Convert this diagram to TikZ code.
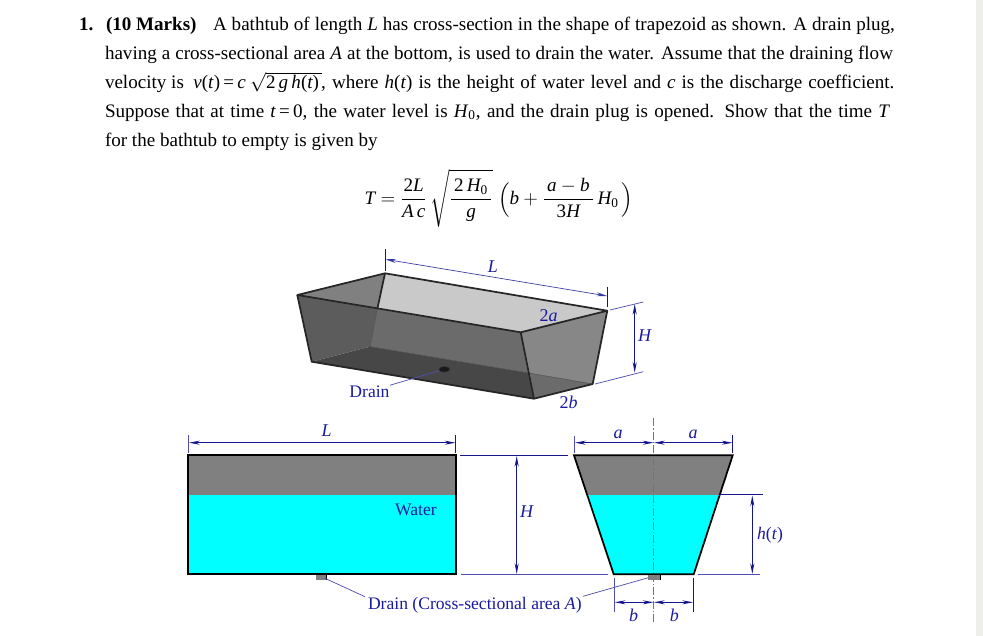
\documentclass[tikz,border=0pt]{standalone}
\usepackage{fontspec}
\usepackage{amsmath}
\setmainfont{Liberation Serif}
\usetikzlibrary{arrows.meta,shapes.geometric}
\definecolor{dimblue}{HTML}{14148C}
\definecolor{textblue}{HTML}{1A1AA0}
\definecolor{leadblue}{HTML}{5050B0}
\definecolor{strip}{HTML}{EEEEEA}
\definecolor{aqua}{RGB}{0,255,255}
\definecolor{cline}{HTML}{C85050}
\definecolor{clinew}{HTML}{4A8C96}
\newcommand{\mi}[1]{\mathord{\hbox{\itshape #1}}}
\newcommand{\rmn}[1]{\mathord{\hbox{\rmfamily #1}}}
\newcommand{\Hz}{\mi{H}_{\hbox{\fontsize{10}{10}\selectfont 0}}}
\tikzset{
  x=0.75pt,y=-0.75pt,
  txt/.style={anchor=base west,inner sep=0pt,outer sep=0pt,font=\fontsize{14.3}{17}\selectfont},
  lab/.style={inner sep=0pt,outer sep=0pt,text=textblue,font=\fontsize{13.2}{15}\selectfont},
  labit/.style={lab,font=\fontsize{13.5}{15}\selectfont\itshape},
  dimline/.style={draw=dimblue,line width=0.8pt,{Stealth[length=8pt,width=3pt]}-{Stealth[length=8pt,width=3pt]}},
  ext/.style={draw=dimblue,line width=0.65pt},
  lead/.style={draw=leadblue,line width=0.55pt},
  tubedge/.style={draw=black!85,line width=1.3pt,line join=round},
  solid edge/.style={draw=black,line width=1.3pt,line join=miter},
  centerdash/.style={line width=0.5pt,dash pattern=on 6pt off 1.5pt on 1pt off 1.5pt},
}
\begin{document}
\begin{tikzpicture}
\useasboundingbox (0,0) rectangle (983,636);
\fill[white] (0,0) rectangle (983,636);
\fill[strip] (976,0) rectangle (983,636);

% Text
\node[txt] (n1) at (79,30) {\textbf{1.}};
\node[txt] (m1) at (106,30) {\textbf{(10 Marks)}};
\node[txt] (l1) at (213,30) {\makebox[511.5pt][s]{A bathtub of length \textit{L} has cross-section in the shape of trapezoid as shown. A drain plug,}};
\node[txt] (l2) at (105,59) {\makebox[591pt][s]{having a cross-sectional area \textit{A} at the bottom, is used to drain the water. Assume that the draining flow}};
\node[txt] (l3a) at (105,88) {velocity is\ \ \textit{v}(\textit{t})\,=\,\textit{c}};
\node[txt] (l3b) at (250,88) {\smash{$\sqrt{\rmn{2}\,\mi{g}\,\mi{h}\rmn{(}\mi{t}\rmn{)}\,}$}};
\node[txt] (l3c) at (321,88) {\makebox[430pt][s]{, where \textit{h}(\textit{t}) is the height of water level and \textit{c} is the discharge coefficient.}};
\node[txt] (l4) at (105,117) {\makebox[588.75pt][s]{Suppose that at time \textit{t}\,=\,0, the water level is \textit{H}\textsubscript{0}, and the drain plug is opened. Show that the time \textit{T}}};
\node[txt] (l5) at (105,146) {for the bathtub to empty is given by};

% Formula
\node[inner sep=0pt,font=\fontsize{14.3}{17}\selectfont] (formula) at (499,198) {$\displaystyle \mi{T}=\frac{\rmn{2}\mi{L}}{\mi{A}\,\mi{c}}\,\sqrt{\frac{\,\rmn{2}\,\Hz\,}{\mi{g}}}\;\Bigl(\mi{b}+\frac{\,\mi{a}-\mi{b}\,}{\rmn{3}\mi{H}}\,\Hz\,\Bigr)$};

% 3D tub
\coordinate (A) at (385,273.3);
\coordinate (B) at (607.3,310.7);
\coordinate (C) at (520.7,332.3);
\coordinate (D) at (297.3,295);
\coordinate (E) at (311.7,361.7);
\coordinate (F) at (534,398.7);
\coordinate (G) at (592.7,384);
\coordinate (H) at (370,346.7);
\coordinate (X) at (377.3,309);
\coordinate (Y) at (530,373.3);
\fill[black!21] (A)--(B)--(C)--(X)--cycle;
\fill[black!50] (D)--(A)--(X)--cycle;
\fill[black!64] (D)--(X)--(H)--(E)--cycle;
\fill[black!58] (X)--(C)--(Y)--(H)--cycle;
\fill[black!72] (E)--(H)--(Y)--(F)--cycle;
\fill[black!47] (C)--(B)--(G)--(Y)--cycle;
\fill[black!58] (Y)--(G)--(F)--cycle;
\draw[black!70,line width=0.4pt] (X)--(H)--(Y)--(G);
\draw[tubedge] (A)--(X);
\draw[tubedge] (A)--(B)--(C)--(D)--cycle;
\draw[tubedge] (D)--(E)--(F)--(G)--(B);
\draw[tubedge] (C)--(F);
\node[draw=black!80,fill=black!90,ellipse,minimum width=8.2pt,minimum height=4.2pt,inner sep=0pt] (hole) at (444.3,369.3) {};

\node[lab] (drainlab) at (369.5,391.5) {Drain};
\coordinate (dl) at (390,385.2);
\draw[lead] (hole)--(dl);
\node[labit] (Lt) at (493,266.5) {L};
\node[lab,font=\fontsize{13.5}{15}\selectfont] (ta) at (548.7,315.5) {2\textit{a}};
\node[lab,font=\fontsize{13.5}{15}\selectfont] (tb) at (568.7,402) {2\textit{b}};
\node[labit] (tH) at (644.5,336) {H};
\coordinate (e1a) at (385.3,249.3); \coordinate (e1b) at (385.3,270.7);
\coordinate (e2a) at (607.3,286.7); \coordinate (e2b) at (607.3,307.3);
\draw[ext] (e1a)--(e1b);
\draw[ext] (e2a)--(e2b);
\coordinate (dL1) at (385.3,259.3); \coordinate (dL2) at (607.3,296);
\draw[dimline,line width=0.5pt,draw=leadblue!60!dimblue] (dL1)--(dL2);
\coordinate (e3a) at (610,310); \coordinate (e3b) at (643.3,302);
\coordinate (e4a) at (595,384); \coordinate (e4b) at (643.3,371.7);
\draw[lead] (e3a)--(e3b);
\draw[lead] (e4a)--(e4b);
\coordinate (dH1) at (634.7,304); \coordinate (dH2) at (634.7,372.7);
\draw[dimline] (dH1)--(dH2);

% Side view
\coordinate (s1) at (188.3,455.3);
\coordinate (s2) at (455.7,574.3);
\fill[black!50] (s1) rectangle (s2);
\fill[aqua] (188.3,495) rectangle (s2);
\draw[solid edge] (s1) rectangle (s2);
\fill[black!50] (316,575) rectangle (326.7,579.7);
\draw[black,line width=0.7pt] (326.7,575)--(326.7,579.7);
\coordinate (se1a) at (188.7,435); \coordinate (se1b) at (188.7,452.7);
\coordinate (se2a) at (455.7,435); \coordinate (se2b) at (455.7,452.7);
\draw[ext,draw=leadblue] (se1a)--(se1b);
\draw[ext] (se2a)--(se2b);
\coordinate (sL1) at (189,442.7); \coordinate (sL2) at (455.5,442.7);
\draw[dimline] (sL1)--(sL2);
\node[labit] (sLt) at (326.7,430.5) {L};
\node[lab] (water) at (416,509.5) {Water};
\coordinate (hTa) at (460,455.3); \coordinate (hTb) at (568.3,455.3);
\coordinate (hBa) at (461,574.3); \coordinate (hBb) at (608.3,574.3);
\draw[ext] (hTa)--(hTb);
\draw[lead] (hBa)--(hBb);
\coordinate (hM1) at (516.7,456); \coordinate (hM2) at (516.7,574);
\draw[dimline] (hM1)--(hM2);
\node[labit] (sH) at (526.7,512) {H};

% Front view
\coordinate (t1) at (574,455.3);
\coordinate (t2) at (732.7,455.3);
\coordinate (t3) at (693.7,574.3);
\coordinate (t4) at (613.7,574.3);
\fill[black!50] (t1)--(t2)--(t3)--(t4)--cycle;
\fill[aqua] (587.2,495)--(719.6,495)--(t3)--(t4)--cycle;
\coordinate (cl1) at (653.7,418.3); \coordinate (cl2) at (653.7,621.7);
\coordinate (clw1) at (653.7,495); \coordinate (clw2) at (653.7,574);
\draw[cline,centerdash] (cl1)--(clw1);
\draw[clinew,centerdash] (clw1)--(clw2);
\draw[cline,centerdash] (clw2)--(cl2);
\draw[solid edge] (t1)--(t2)--(t3)--(t4)--cycle;
\fill[black!50] (648.3,575) rectangle (660,579.7);
\draw[black,line width=0.5pt] (660,575)--(660,579.7);
\coordinate (fe1a) at (574.7,436); \coordinate (fe1b) at (574.7,452.7);
\coordinate (fe2a) at (732.7,435); \coordinate (fe2b) at (732.7,452.7);
\draw[ext,draw=leadblue] (fe1a)--(fe1b);
\draw[ext] (fe2a)--(fe2b);
\coordinate (fa1) at (575,442.7); \coordinate (fa2) at (653.5,442.7); \coordinate (fa3) at (654,442.7); \coordinate (fa4) at (732.5,442.7);
\draw[dimline] (fa1)--(fa2);
\draw[dimline] (fa3)--(fa4);
\node[labit] (al) at (618,434) {a};
\node[labit] (ar) at (693,434) {a};
\coordinate (he1a) at (720,494.7); \coordinate (he1b) at (763.3,494.7);
\coordinate (he2a) at (698.3,574.3); \coordinate (he2b) at (760,574.3);
\draw[ext] (he1a)--(he1b);
\draw[lead] (he2a)--(he2b);
\coordinate (hh1) at (752.3,495.5); \coordinate (hh2) at (752.3,574);
\draw[dimline] (hh1)--(hh2);
\node[lab] (ht) at (770,535) {\textit{h}(\textit{t})};
\coordinate (be1a) at (614.3,578); \coordinate (be1b) at (614.3,611.7);
\coordinate (be2a) at (693.3,578); \coordinate (be2b) at (693.3,612);
\draw[lead] (be1a)--(be1b);
\draw[ext] (be2a)--(be2b);
\coordinate (b1) at (614.8,602.3); \coordinate (b2) at (653.5,602.3); \coordinate (b3) at (654,602.3); \coordinate (b4) at (693,602.3);
\draw[dimline] (b1)--(b2);
\draw[dimline] (b3)--(b4);
\node[labit] (bl) at (633.7,615.5) {b};
\node[labit] (br) at (674.3,615.5) {b};

% Drain label
\node[lab,anchor=base west] (dlab) at (368,609) {Drain (Cross-sectional area \textit{A})};
\coordinate (la1) at (325,578.3); \coordinate (la2) at (365,596.7);
\coordinate (lb1) at (648.3,577.7); \coordinate (lb2) at (583,596.3);
\draw[lead] (la1)--(la2);
\draw[lead] (lb1)--(lb2);
\end{tikzpicture}
\end{document}
